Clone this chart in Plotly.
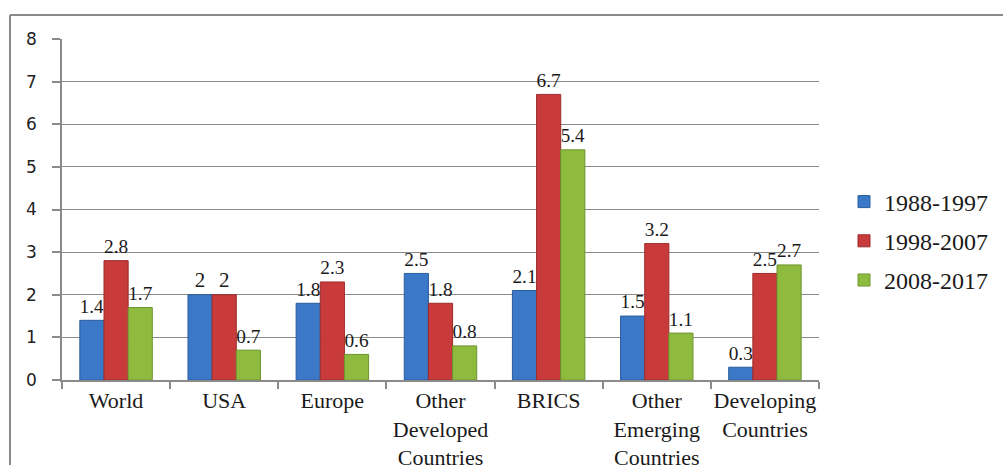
import plotly.graph_objects as go

categories = ["World", "USA", "Europe", "Other<br>Developed<br>Countries", "BRICS",
              "Other<br>Emerging<br>Countries", "Developing<br>Countries"]
series_names = ["1988-1997", "1998-2007", "2008-2017"]
v_1988_1997 = [1.4, 2, 1.8, 2.5, 2.1, 1.5, 0.3]
v_1998_2007 = [2.8, 2, 2.3, 1.8, 6.7, 3.2, 2.5]
v_2008_2017 = [1.7, 0.7, 0.6, 0.8, 5.4, 1.1, 2.7]
y_ticks = [0, 1, 2, 3, 4, 5, 6, 7, 8]

colors = ["#3B78C7", "#C93B3B", "#8EBB3E"]
edge = ["#2A5C9C", "#9C2B2B", "#6E9430"]
serif = "Liberation Serif"

fig = go.Figure()
for i, (name, vals) in enumerate(zip(series_names, [v_1988_1997, v_1998_2007, v_2008_2017])):
    fig.add_trace(go.Bar(
        x=categories, y=vals, name=name,
        marker=dict(color=colors[i], line=dict(color=edge[i], width=1)),
        text=[f"{v:g}" for v in vals], textposition="outside",
        textfont=dict(family=serif, size=21, color="#1a1a1a"),
        cliponaxis=False, legendgroup=name,
    ))

W, H = 1003, 465
ml, mr, mt, mb = 62, 184, 39, 85
pw, ph = W - ml - mr, H - mt - mb

def px_x(x):
    return (x - ml) / pw

def px_y(y):
    return (H - mb - y) / ph

fig.update_layout(
    width=W, height=H,
    margin=dict(l=ml, r=mr, t=mt, b=mb, autoexpand=False),
    paper_bgcolor="white", plot_bgcolor="white",
    barmode="group", bargap=0.33, bargroupgap=0,
    showlegend=True,
    legend=dict(x=px_x(844), xanchor="left", y=px_y(241), yanchor="middle",
                font=dict(family=serif, size=24, color="#1a1a1a"),
                tracegroupgap=5, bgcolor="rgba(0,0,0,0)"),
    xaxis=dict(showline=True, linecolor="#8a8a8a", linewidth=1.5, automargin=False,
               ticks="outside", tickson="boundaries", ticklen=7, tickcolor="#8a8a8a",
               tickwidth=1.5, showgrid=False, tickangle=0,
               tickfont=dict(family=serif, size=22, color="#1a1a1a")),
    yaxis=dict(range=[0, 8], tickvals=y_ticks, showline=True, linecolor="#8a8a8a",
               linewidth=1.5, ticks="outside", ticklen=8, tickcolor="#8a8a8a",
               tickwidth=1.5, showgrid=True, gridcolor="#8a8a8a", gridwidth=1.2,
               zeroline=False, ticklabelstandoff=12, automargin=False,
               tickfont=dict(family="DejaVu Sans", size=17, color="#222")),
    shapes=[
        dict(type="line", xref="paper", yref="paper", x0=px_x(10), x1=px_x(1003),
             y0=px_y(15), y1=px_y(15), line=dict(color="#8a8a8a", width=2)),
        dict(type="line", xref="paper", yref="paper", x0=px_x(10), x1=px_x(10),
             y0=px_y(15), y1=px_y(465), line=dict(color="#8a8a8a", width=2)),
    ],
)

fig.write_html("out.html")
